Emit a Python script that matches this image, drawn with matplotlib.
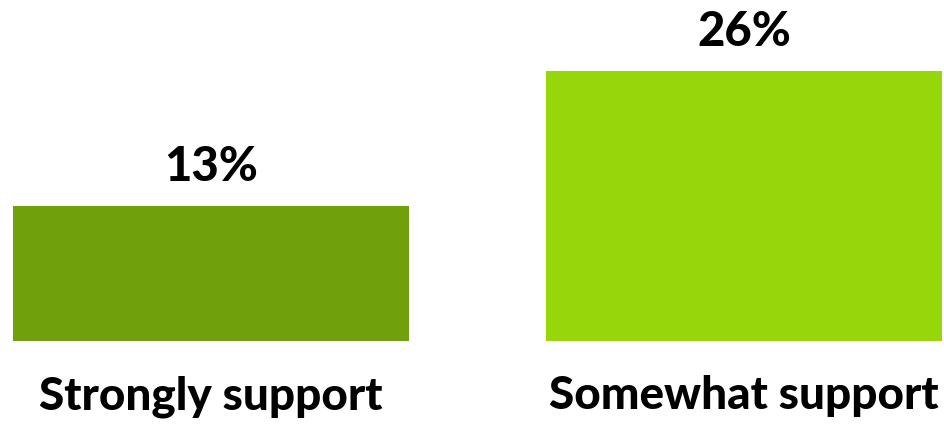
import matplotlib
matplotlib.use("Agg")
import matplotlib.pyplot as plt

categories = ["Strongly support", "Somewhat support"]
values = [13, 26]
colors = ["#70A00B", "#97D60B"]

fig = plt.figure(figsize=(9.45, 4.24), dpi=100)
ax = fig.add_axes([0, 0, 1, 1])
ax.set_axis_off()

x = list(range(len(categories)))
bars = ax.bar(x, values, width=0.743, color=colors)

ax.set_xlim(-0.396, 1.377)
ax.set_ylim(-7.98, 32.79)

font = "Lato"
for xi, v in zip(x, values):
    ax.annotate(f"{v}%", xy=(xi, v), xytext=(0, 18), textcoords="offset points",
                ha="center", va="baseline", fontsize=34, fontweight=900,
                family=font, color="black")

for xi, c in zip(x, categories):
    ax.text(xi, -6.54, c, ha="center", va="baseline", fontsize=33,
            fontweight=900, family=font, color="black")

fig.savefig("out.png", dpi=100)
